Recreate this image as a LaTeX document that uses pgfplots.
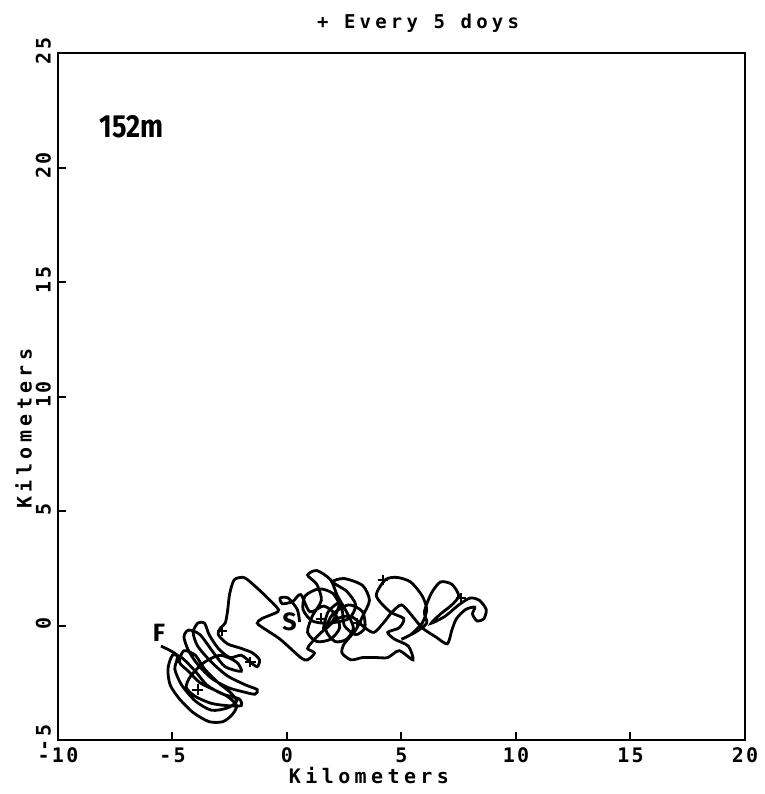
\documentclass[border=0pt]{standalone}
\usepackage{pgfplots}
\pgfplotsset{compat=1.18}
\usepackage{fontspec}
\setmainfont{DejaVu Sans Mono}
\newfontfamily\tickfont[LetterSpace=12]{DejaVu Sans Mono}
\newfontfamily\labfont[LetterSpace=22]{DejaVu Sans Mono}
\newfontfamily\boldsans{Fira Sans}
\begin{document}
\begin{tikzpicture}
\useasboundingbox (-29pt,-27pt) rectangle (353.5pt,370pt);
\begin{axis}[
  at={(0,0)}, anchor=south west,
  scale only axis, width=343.5pt, height=343.5pt,
  xmin=-10, xmax=20, ymin=-5, ymax=25,
  xtick={-10,-5,...,20}, ytick={-5,0,...,25},
  xtick pos=bottom, ytick pos=left,
  tick align=inside, major tick length=4pt,
  axis line style={line width=1.2pt},
  every tick/.style={line width=1pt, black},
  /pgf/number format/assume math mode=true,
  ticklabel style={font=\tickfont\bfseries\fontsize{10}{11}\selectfont},
  xticklabel style={yshift=-0.5pt},
  yticklabel style={rotate=90, anchor=south, xshift=1pt},
  clip=false,
]
% trajectory (progressive vector diagram)
\addplot[black, line width=1.4pt, smooth, tension=0.45] coordinates {
(0.55,0.15) (0.45,0.7) (0.05,1.2) (-0.3,1.2) (-0.2,0.95) (0.25,1.05) (0.6,1.35)
(1.0,0.6) (1.6,0.85) (2.1,0.5) (2.3,-0.1) (1.9,-0.6) (1.3,-0.7) (0.9,-0.3)
(1.1,0.4) (1.5,1.1) (1.3,1.8) (0.9,2.2) (1.3,2.4) (1.9,2.0) (2.2,1.3)
(2.6,0.6) (2.9,-0.1) (2.6,-0.6) (2.1,-0.7) (1.7,-0.2) (2.0,0.5) (2.7,0.9)
(3.3,0.6) (3.4,-0.1) (3.0,-0.4) (2.5,0.0) (2.4,0.7) (2.0,1.4) (1.4,1.6)
(0.8,1.3) (0.7,0.7) (1.1,0.2) (1.8,0.1) (2.7,0.3) (3.0,0.9) (2.6,1.5)
(2.0,1.9) (2.5,2.05) (3.3,1.75) (3.6,1.1) (3.3,0.4) (3.0,-0.2) (2.5,-0.8)
(2.4,-1.2) (2.8,-1.5) (3.3,-1.4) (3.9,-1.4) (4.4,-1.4) (4.9,-1.1) (5.5,-1.5)
(5.3,-0.9) (4.7,-0.6) (4.4,-0.3) (4.9,-0.1) (5.1,0.3) (4.5,0.6) (3.9,1.3)
(4.3,2.0) (4.8,2.1) (5.4,1.9) (5.9,1.3) (6.1,0.7) (5.9,0.1) (5.4,-0.4)
(5.0,-0.6) (5.6,-0.3) (6.1,0.1) (6.0,0.6) (6.3,1.4) (6.7,1.9) (7.2,1.8)
(7.5,1.3) (7.2,0.9) (6.7,0.5) (6.3,0.1) (6.9,0.4) (7.5,0.9) (8.0,1.2)
(8.4,1.1) (8.7,0.7) (8.6,0.3) (8.3,0.2) (8.1,0.5) (8.2,0.8) (7.8,0.7)
(7.4,0.3) (7.2,-0.2) (7.0,-0.8) (6.5,-0.5) (5.9,-0.1) (5.4,0.5) (5.0,0.9)
(4.6,0.6) (4.2,0.1) (3.8,-0.3) (3.4,-0.1) (2.8,0.4) (2.2,0.3) (1.6,-0.2)
(1.8,0.6) (2.3,1.0) (2.0,0.2) (1.5,-0.3)
(1.2,-0.6) (0.9,-1.0) (1.2,-1.2) (0.9,-1.5) (0.6,-1.4) (-0.3,-0.6) (-1.05,-0.1)
(-1.3,0.1) (-1.1,0.3) (-0.4,0.6) (-0.45,0.8) (-1.05,1.4) (-1.6,1.9) (-1.9,2.1)
(-2.3,2.0) (-2.5,1.4) (-2.6,0.6) (-2.7,0.1) (-2.9,-0.1) (-3.0,-0.4) (-2.6,-0.8)
(-2.0,-1.0) (-1.5,-1.2) (-1.2,-1.5) (-1.3,-1.8) (-1.6,-1.6) (-2.0,-1.3) (-2.5,-1.4)
(-3.0,-1.0) (-3.4,-0.4) (-3.6,0.1) (-3.9,0.1) (-4.1,-0.3) (-3.9,-0.9) (-3.3,-1.6)
(-2.6,-2.2) (-1.8,-2.6) (-1.3,-2.8) (-1.4,-3.0) (-1.9,-2.9) (-2.6,-2.7) (-3.3,-2.3)
(-3.9,-1.7) (-4.3,-1.1) (-4.5,-0.5) (-4.3,-0.2) (-3.8,-0.4) (-3.2,-1.2) (-2.7,-1.8)
(-2.0,-2.0) (-2.2,-1.6) (-2.9,-1.3) (-3.6,-1.6) (-4.2,-2.2) (-4.4,-2.7) (-4.0,-3.1)
(-3.3,-3.4) (-2.6,-3.5) (-2.0,-3.5) (-2.1,-3.2) (-2.8,-3.0) (-3.5,-2.6) (-4.0,-2.0)
(-4.6,-1.4) (-5.0,-1.3) (-5.2,-1.9) (-5.1,-2.6) (-4.7,-3.2) (-4.1,-3.8) (-3.4,-4.2)
(-2.8,-4.2) (-2.4,-3.9) (-2.2,-3.5) (-2.6,-3.1) (-3.2,-2.8) (-3.8,-2.5) (-4.3,-2.0)
(-4.7,-1.6) (-4.5,-1.1) (-4.0,-1.3) (-3.6,-1.9) (-3.0,-2.5) (-2.5,-2.9) (-2.2,-3.3)
(-2.6,-3.6) (-3.3,-3.7) (-4.0,-3.3) (-4.6,-2.6) (-4.9,-1.9) (-4.8,-1.3) (-5.5,-0.9)
};
% 5-day marks
\addplot[black, only marks, mark=+, mark size=2.6pt, line width=1pt] coordinates {
(-2.85,-0.25) (3.05,0.1) (4.2,2.0) (-3.9,-2.8) (1.5,0.3) (7.6,1.2) (-1.6,-1.6)
};
\node[font=\labfont\bfseries\fontsize{9.5}{10}\selectfont] at (axis cs:5.72,26.31) {+ Every 5 doys};
\node[font=\labfont\bfseries\fontsize{10}{11}\selectfont] at (axis cs:3.58,-6.53) {Kilometers};
\node[font=\labfont\bfseries\fontsize{10}{11}\selectfont, rotate=90] at (axis cs:-11.5,8.6) {Kilometers};
\node[font=\boldsans\bfseries\fontsize{16}{18}\selectfont, anchor=west, inner sep=0pt] at (axis cs:-8.2,21.8) {\scalebox{0.85}[1]{152m}};
\node[font=\boldsans\bfseries\fontsize{12.5}{14}\selectfont] at (axis cs:-5.59,-0.33) {F};
\node[font=\boldsans\bfseries\fontsize{12.5}{14}\selectfont] at (axis cs:0.11,0.17) {S};
\end{axis}
\end{tikzpicture}
\end{document}
